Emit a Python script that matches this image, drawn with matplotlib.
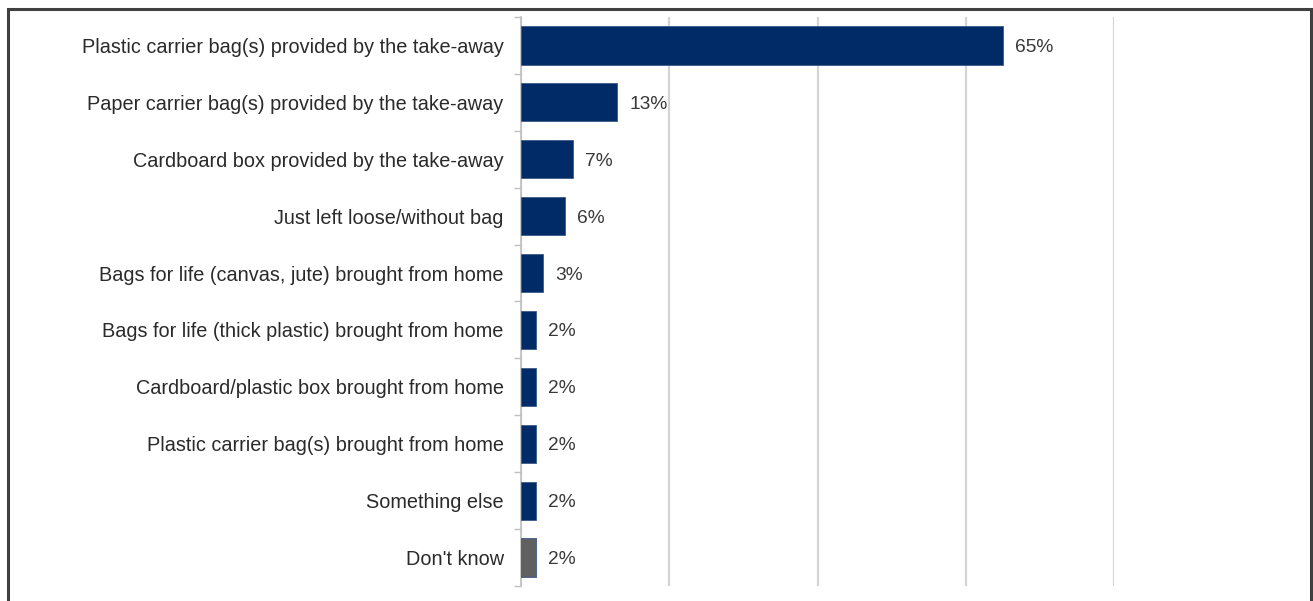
import matplotlib
matplotlib.use("Agg")
import matplotlib.pyplot as plt
from matplotlib.patches import Rectangle

categories = [
    "Plastic carrier bag(s) provided by the take-away",
    "Paper carrier bag(s) provided by the take-away",
    "Cardboard box provided by the take-away",
    "Just left loose/without bag",
    "Bags for life (canvas, jute) brought from home",
    "Bags for life (thick plastic) brought from home",
    "Cardboard/plastic box brought from home",
    "Plastic carrier bag(s) brought from home",
    "Something else",
    "Don't know",
]
values = [65, 13, 7, 6, 3, 2, 2, 2, 2, 2]
value_labels = ["65%", "13%", "7%", "6%", "3%", "2%", "2%", "2%", "2%", "2%"]
bar_colors = ["#002b66"] * 9 + ["#606060"]
x_ticks = [0, 20, 40, 60, 80]

plt.rcParams["font.family"] = ["Liberation Sans", "DejaVu Sans"]

W, H = 1313, 601
fig = plt.figure(figsize=(W / 100, H / 100), dpi=100)

# axes placement in pixel terms
left, right, top, bottom = 521, 1114, 17, 586
ax = fig.add_axes([left / W, 1 - bottom / H, (right - left) / W, (bottom - top) / H])

n = len(categories)
ypos = list(range(n))
ax.barh(ypos, values, height=0.67, color=bar_colors, edgecolor="#3a5a8a",
        linewidth=0.6, zorder=3)
ax.set_ylim(n - 0.5, -0.5)
ax.set_xlim(0, 80)

for y, v, lab in zip(ypos, values, value_labels):
    ax.annotate(lab, (v, y), xytext=(8.5, 0), textcoords="offset points",
                va="center_baseline", ha="left", fontsize=13.8, color="#383838")

ax.set_xticks(x_ticks)
ax.set_xticklabels([])
ax.tick_params(axis="x", length=0)
ax.grid(axis="x", color="#d4d4d4", linewidth=1.6, zorder=0)

ax.set_yticks(ypos)
ax.set_yticklabels(categories, fontsize=14.3, color="#2a2a2a",
                   va="center_baseline")
ax.tick_params(axis="y", length=0, pad=12.5)
# small ticks on category boundaries
ax.set_yticks([i - 0.5 for i in range(n + 1)], minor=True)
ax.tick_params(axis="y", which="minor", length=5, color="#bfbfbf", width=1)

for s in ["top", "right", "bottom"]:
    ax.spines[s].set_visible(False)
ax.spines["left"].set_color("#bfbfbf")
ax.spines["left"].set_linewidth(1.2)

# outer frame
fig.patches.append(Rectangle((8 / W, -0.05), (1311 - 8) / W, 1.05 - 9 / H,
                             transform=fig.transFigure, fill=False,
                             edgecolor="#404040", linewidth=2.2))

fig.savefig("out.png", dpi=100)
